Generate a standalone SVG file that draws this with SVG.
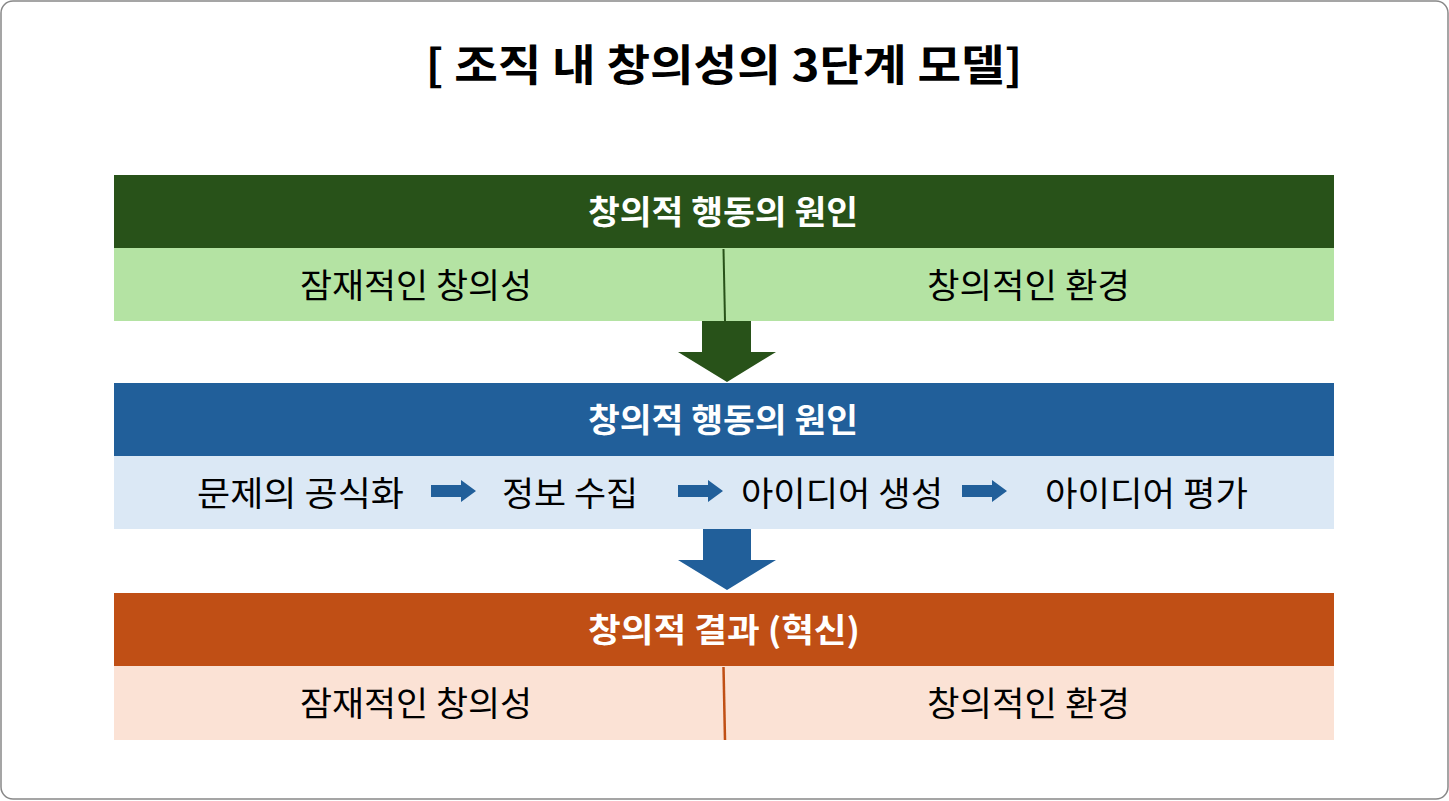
<svg xmlns="http://www.w3.org/2000/svg" width="1449" height="801" viewBox="0 0 1449 801">
<style>
text{font-family:"Noto Sans CJK KR","Noto Sans",sans-serif;text-anchor:middle}
.title{font-size:43px;font-weight:700;fill:#000}
.hdr{font-size:33px;font-weight:700;fill:#fff}
.band{font-size:34px;fill:#000}
.step{font-size:34px;fill:#000}
</style>
<defs>
<path id="sa" d="M0,-6 H30 V-11 L45,0 L30,11 V6 H0 Z" fill="#215f9a"/>
</defs>
<rect x="1" y="1" width="1447" height="798" rx="12" ry="12" fill="#fff" stroke="#888" stroke-width="1.5"/>
<text class="title" x="724" y="81" textLength="597" lengthAdjust="spacingAndGlyphs">[ 조직 내 창의성의 3단계 모델]</text>
<g id="stage1">
<rect x="114" y="175" width="1220" height="73" fill="#285219"/>
<rect x="114" y="248" width="1220" height="73" fill="#b4e3a3"/>
<text class="hdr" x="723" y="224" textLength="270" lengthAdjust="spacingAndGlyphs">창의적 행동의 원인</text>
<text class="band" x="416" y="298" textLength="232" lengthAdjust="spacingAndGlyphs">잠재적인 창의성</text>
<text class="band" x="1028.5" y="298" textLength="203" lengthAdjust="spacingAndGlyphs">창의적인 환경</text>
<line x1="723.5" y1="249" x2="725" y2="321" stroke="#285219" stroke-width="2"/>
</g>
<g id="stage2">
<rect x="114" y="383" width="1220" height="73" fill="#215f9a"/>
<rect x="114" y="456" width="1220" height="73" fill="#dbe8f5"/>
<text class="hdr" x="723" y="432" textLength="270" lengthAdjust="spacingAndGlyphs">창의적 행동의 원인</text>
<text class="step" x="300.5" y="506" textLength="207" lengthAdjust="spacingAndGlyphs">문제의 공식화</text>
<text class="step" x="570" y="506" textLength="136" lengthAdjust="spacingAndGlyphs">정보 수집</text>
<text class="step" x="842" y="506" textLength="202" lengthAdjust="spacingAndGlyphs">아이디어 생성</text>
<text class="step" x="1146.5" y="506" textLength="203" lengthAdjust="spacingAndGlyphs">아이디어 평가</text>
</g>
<g id="stage3">
<rect x="114" y="593" width="1220" height="73" fill="#c04f15"/>
<rect x="114" y="666" width="1220" height="74" fill="#fbe2d5"/>
<text class="hdr" x="724" y="642" textLength="272" lengthAdjust="spacingAndGlyphs">창의적 결과 (혁신)</text>
<text class="band" x="416" y="716" textLength="232" lengthAdjust="spacingAndGlyphs">잠재적인 창의성</text>
<text class="band" x="1028.5" y="716" textLength="203" lengthAdjust="spacingAndGlyphs">창의적인 환경</text>
<line x1="723.5" y1="667" x2="725" y2="740" stroke="#c04f15" stroke-width="2.5"/>
</g>
<g id="connectors">
<path d="M702,321 H751 V352 H776 L727,382 L678,352 H702 Z" fill="#285219"/>
<path d="M703,529 H751 V560 H776 L727,590 L678,560 H703 Z" fill="#215f9a"/>
<use href="#sa" x="431" y="491"/>
<use href="#sa" x="678" y="491"/>
<use href="#sa" x="962" y="491"/>
</g>
</svg>
